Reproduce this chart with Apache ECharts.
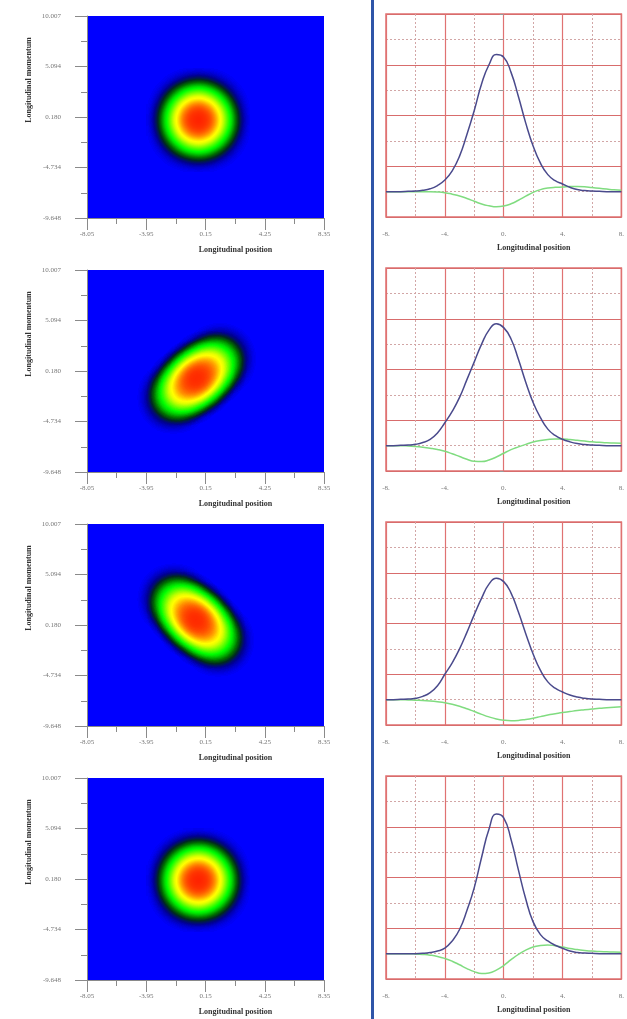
<!DOCTYPE html>
<html>
<head>
<meta charset="utf-8">
<title>Longitudinal phase space</title>
<script src="https://cdn.jsdelivr.net/npm/echarts@6.0.0/dist/echarts.min.js"></script>
<style>
  html, body { margin: 0; padding: 0; background: #fff; }
  #main { width: 627px; height: 1019px; }
  #divider { position: absolute; left: 371px; top: 0; width: 3px; height: 1019px; background: #2f55a8; }
</style>
</head>
<body>
<div id="main"></div>
<div id="divider"></div>
<script>
// heatmap axes: tick labels and data range
var posTicks = ['-8.05', '-3.95', '0.15', '4.25', '8.35'];
var momTicks = ['-9.648', '-4.734', '0.180', '5.094', '10.007'];
var posRange = [-8.05, 8.35];
var momRange = [-9.648, 10.007];

// ridge points of each phase-space blob: [position, momentum, weight]
var blob1 = [[-0.35, -0.11, 1]];
var blob2 = [[-2.06, -2.39, 0.3], [-1.26, -1.46, 0.6], [-0.46, -0.53, 0.95], [0.34, 0.40, 0.6], [1.14, 1.33, 0.3]];
var blob3 = [[-2.03, 2.66, 0.3], [-1.27, 1.66, 0.6], [-0.51, 0.67, 0.95], [0.25, -0.32, 0.6], [1.01, -1.32, 0.3]];
var blob4 = [[-0.35, 0.05, 1]];

// profiles on the right
var xs = [-8, -7.5, -7, -6.5, -6, -5.5, -5, -4.5, -4, -3.5, -3, -2.5, -2, -1.5, -1, -0.5,
          0, 0.5, 1, 1.5, 2, 2.5, 3, 3.5, 4, 4.5, 5, 5.5, 6, 6.5, 7, 7.5, 8];
var blue1 = [0, 0, 0, 0.01, 0.02, 0.05, 0.11, 0.24, 0.46, 0.82, 1.4, 2.25, 3.2, 4.25, 5.0, 5.4,
             5.3, 4.7, 3.75, 2.7, 1.8, 1.12, 0.67, 0.43, 0.3, 0.17, 0.08, 0.04, 0.02, 0.01, 0, 0, 0];
var green1 = [0, 0, 0, 0, 0, 0, 0, -0.01, -0.04, -0.1, -0.17, -0.27, -0.38, -0.49, -0.56, -0.6,
              -0.57, -0.48, -0.34, -0.18, -0.03, 0.08, 0.14, 0.17, 0.18, 0.2, 0.2, 0.19, 0.16, 0.13, 0.1, 0.07, 0.05];
var blue2 = [0, 0, 0.01, 0.02, 0.05, 0.12, 0.25, 0.5, 0.9, 1.35, 1.9, 2.6, 3.3, 4.0, 4.55, 4.8,
             4.65, 4.2, 3.4, 2.5, 1.7, 1.1, 0.65, 0.4, 0.25, 0.15, 0.08, 0.04, 0.02, 0.01, 0, 0, 0];
var green2 = [0, 0, 0, -0.01, -0.03, -0.06, -0.1, -0.15, -0.22, -0.32, -0.43, -0.54, -0.62, -0.63, -0.57, -0.45,
              -0.3, -0.16, -0.05, 0.05, 0.14, 0.2, 0.24, 0.26, 0.26, 0.24, 0.21, 0.18, 0.15, 0.13, 0.11, 0.1, 0.09];
var blue3 = [0, 0, 0.01, 0.02, 0.05, 0.13, 0.28, 0.55, 1.0, 1.45, 2.0, 2.65, 3.35, 4.0, 4.55, 4.78,
             4.65, 4.2, 3.45, 2.6, 1.8, 1.15, 0.7, 0.45, 0.3, 0.18, 0.1, 0.05, 0.02, 0.01, 0, 0, 0];
var green3 = [0, 0, 0, -0.01, -0.02, -0.03, -0.05, -0.08, -0.12, -0.18, -0.26, -0.36, -0.47, -0.58, -0.68, -0.76,
              -0.81, -0.83, -0.82, -0.78, -0.73, -0.67, -0.61, -0.56, -0.51, -0.47, -0.43, -0.4, -0.37, -0.34, -0.32, -0.3, -0.28];
var blue4 = [0, 0, 0, 0, 0, 0.01, 0.04, 0.1, 0.22, 0.5, 0.95, 1.7, 2.6, 3.8, 4.9, 5.5,
             5.35, 4.5, 3.3, 2.15, 1.25, 0.75, 0.5, 0.33, 0.21, 0.1, 0.04, 0.02, 0.01, 0, 0, 0, 0];
var green4 = [0, 0, 0, 0, -0.01, -0.03, -0.06, -0.11, -0.19, -0.3, -0.44, -0.59, -0.71, -0.78, -0.76, -0.65,
              -0.47, -0.24, -0.03, 0.14, 0.26, 0.32, 0.34, 0.31, 0.26, 0.2, 0.16, 0.12, 0.1, 0.08, 0.07, 0.06, 0.05];

var blobs = [blob1, blob2, blob3, blob4];
var blues = [blue1, blue2, blue3, blue4];
var greens = [green1, green2, green3, green4];

var serif = "'Liberation Serif', 'DejaVu Serif', serif";
var heatTops = [16, 270, 524, 778];
var lineTops = [14, 268, 522, 776];
// point size / blur of the heat kernel per panel
var kernels = [[28, 24], [20, 20], [20, 20], [28, 24]];
// colour ramp, one stop every 0.05 of density
var ramp = ['#0000ff', '#000090', '#002a20', '#006a00', '#00a800', '#00dc00', '#00ff00',
            '#30ff00', '#60ff00', '#90ff00', '#c0ff00', '#e8ff00', '#ffff00', '#ffe000',
            '#ffb800', '#ff9000', '#ff6c00', '#ff4c00', '#ff3400', '#ff2400', '#ff1800'];

echarts.registerMap('phaseBox', {
  type: 'FeatureCollection',
  features: [{
    type: 'Feature',
    properties: { name: 'box' },
    geometry: {
      type: 'Polygon',
      coordinates: [[
        [posRange[0], momRange[0]], [posRange[1], momRange[0]],
        [posRange[1], momRange[1]], [posRange[0], momRange[1]],
        [posRange[0], momRange[0]]
      ]]
    }
  }]
});

function pair(arr) {
  return xs.map(function (x, i) { return [x, arr[i]]; });
}

var grids = [], xAxes = [], yAxes = [], geos = [], series = [];
var nameStyle = { color: '#333', fontSize: 8, fontWeight: 'bold', fontFamily: serif };
var tickStyle = { color: '#8a8a8a' };

for (var i = 0; i < 4; i++) {
  grids.push({ left: 87, top: heatTops[i], width: 237, height: 202 });
  geos.push({
    map: 'phaseBox', left: 87, top: heatTops[i], width: 237, height: 202,
    roam: false, silent: true,
    label: { show: false },
    itemStyle: { areaColor: '#0000ff', borderWidth: 0 },
    emphasis: { disabled: true },
    select: { disabled: true }
  });
  xAxes.push({
    gridIndex: i, type: 'value', min: 0, max: 4, interval: 1,
    axisLine: { show: true, onZero: false, lineStyle: tickStyle },
    axisTick: { length: 12, lineStyle: tickStyle },
    minorTick: { show: true, splitNumber: 2, length: 6, lineStyle: tickStyle },
    splitLine: { show: false },
    axisLabel: {
      margin: 13, color: '#777', fontSize: 7, fontFamily: serif,
      formatter: function (v) { return posTicks[Math.round(v)]; }
    },
    name: 'Longitudinal position', nameLocation: 'middle', nameGap: 28,
    nameTextStyle: Object.assign({ padding: [0, 0, 0, 60] }, nameStyle)
  });
  yAxes.push({
    gridIndex: i, type: 'value', min: 0, max: 4, interval: 1,
    axisLine: { show: true, onZero: false, lineStyle: tickStyle },
    axisTick: { length: 12, lineStyle: tickStyle },
    minorTick: { show: true, splitNumber: 2, length: 6, lineStyle: tickStyle },
    splitLine: { show: false },
    axisLabel: {
      margin: 26, color: '#777', fontSize: 7, fontFamily: serif,
      formatter: function (v) { return momTicks[Math.round(v)]; }
    },
    name: 'Longitudinal momentum', nameLocation: 'middle', nameGap: 54,
    nameTextStyle: Object.assign({ padding: [0, 0, 0, 74] }, nameStyle)
  });
  series.push({
    type: 'heatmap', coordinateSystem: 'geo', geoIndex: i,
    pointSize: kernels[i][0], blurSize: kernels[i][1],
    minOpacity: 1, maxOpacity: 1,
    data: blobs[i]
  });
}

for (var j = 0; j < 4; j++) {
  var g = 4 + j;
  grids.push({
    left: 386, top: lineTops[j], width: 236, height: 203,
    show: true, backgroundColor: '#fff', borderColor: '#e07070', borderWidth: 1.5
  });
  xAxes.push({
    gridIndex: g, type: 'value', min: -8, max: 8, interval: 4,
    axisLine: { show: false }, axisTick: { show: false },
    splitLine: { lineStyle: { color: '#e07272', width: 1.2 } },
    minorTick: { show: false, splitNumber: 2 },
    minorSplitLine: { show: true, lineStyle: { color: '#d2a6a6', type: [2, 2] } },
    axisLabel: {
      margin: 14, color: '#777', fontSize: 7, fontFamily: serif,
      formatter: function (v) { return v + '.'; }
    },
    name: 'Longitudinal position', nameLocation: 'middle', nameGap: 27,
    nameTextStyle: Object.assign({ padding: [0, 0, 0, 60] }, nameStyle)
  });
  var yi = yAxes.length;
  yAxes.push({
    gridIndex: g, type: 'value', position: 'left', offset: 9,
    min: -1, max: 7, interval: 1,
    axisLine: { show: false },
    axisTick: { show: true, length: 4, lineStyle: { color: '#999' } },
    axisLabel: { show: false },
    splitLine: { lineStyle: { color: '#d2a6a6', type: [2, 2] } }
  });
  yAxes.push({
    gridIndex: g, type: 'value', position: 'right',
    min: 0, max: 8, interval: 2,
    axisLine: { show: false }, axisTick: { show: false }, axisLabel: { show: false },
    splitLine: { lineStyle: { color: '#d86c6c', width: 1.2 } }
  });
  series.push({
    type: 'line', xAxisIndex: g, yAxisIndex: yi, data: pair(greens[j]),
    smooth: true, showSymbol: false, lineStyle: { color: '#80dc80', width: 1.5 }
  });
  series.push({
    type: 'line', xAxisIndex: g, yAxisIndex: yi, data: pair(blues[j]),
    smooth: true, showSymbol: false, lineStyle: { color: '#4a4a8c', width: 1.5 }
  });
}

var chart = echarts.init(document.getElementById('main'));
chart.setOption({
  animation: false,
  backgroundColor: '#fff',
  grid: grids,
  xAxis: xAxes,
  yAxis: yAxes,
  geo: geos,
  visualMap: {
    type: 'continuous', show: false, min: 0, max: 1,
    seriesIndex: [0, 1, 2, 3],
    inRange: { color: ramp }
  },
  series: series
});
</script>
</body>
</html>
